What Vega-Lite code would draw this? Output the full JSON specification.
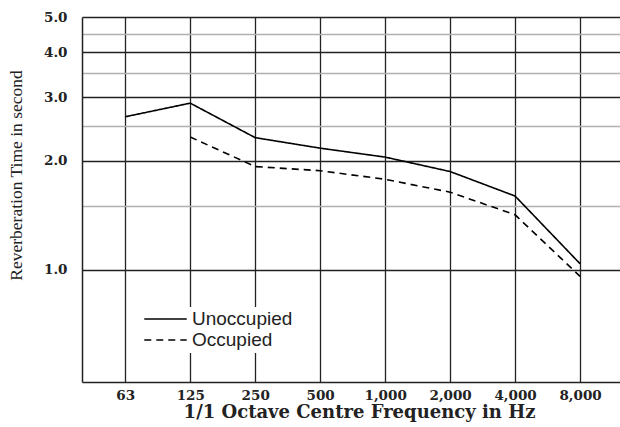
{
  "$schema": "https://vega.github.io/schema/vega-lite/v6.json",
  "width": 538,
  "height": 365,
  "autosize": {"type": "none"},
  "padding": {"left": 82, "top": 17, "right": 0, "bottom": 45},
  "background": "white",
  "data": {
    "values": [
      {"freq": "63", "status": "Unoccupied", "rt": 2.65},
      {"freq": "125", "status": "Unoccupied", "rt": 2.89},
      {"freq": "250", "status": "Unoccupied", "rt": 2.32},
      {"freq": "500", "status": "Unoccupied", "rt": 2.17},
      {"freq": "1,000", "status": "Unoccupied", "rt": 2.05},
      {"freq": "2,000", "status": "Unoccupied", "rt": 1.87},
      {"freq": "4,000", "status": "Unoccupied", "rt": 1.6},
      {"freq": "8,000", "status": "Unoccupied", "rt": 1.04},
      {"freq": "125", "status": "Occupied", "rt": 2.33},
      {"freq": "250", "status": "Occupied", "rt": 1.93},
      {"freq": "500", "status": "Occupied", "rt": 1.88},
      {"freq": "1,000", "status": "Occupied", "rt": 1.78},
      {"freq": "2,000", "status": "Occupied", "rt": 1.64},
      {"freq": "4,000", "status": "Occupied", "rt": 1.42},
      {"freq": "8,000", "status": "Occupied", "rt": 0.96}
    ]
  },
  "mark": {"type": "line", "color": "black", "strokeWidth": 1.6},
  "encoding": {
    "x": {
      "field": "freq",
      "type": "ordinal",
      "scale": {
        "type": "point",
        "domain": ["63", "125", "250", "500", "1,000", "2,000", "4,000", "8,000"],
        "padding": 0.64,
        "align": 0.52
      },
      "axis": {
        "title": "1/1 Octave Centre Frequency in Hz",
        "titleFont": "DejaVu Serif",
        "titleFontWeight": "bold",
        "titleFontSize": 18,
        "titleColor": "#222",
        "titlePadding": 2,
        "titleX": 277,
        "labelFont": "DejaVu Serif",
        "labelFontWeight": "bold",
        "labelFontSize": 13.5,
        "labelColor": "#222",
        "labelAngle": 0,
        "labelPadding": 6,
        "ticks": false,
        "grid": true,
        "gridColor": "#222",
        "gridWidth": 1.3,
        "gridOpacity": 1,
        "domainColor": "#222",
        "domainWidth": 1.5
      }
    },
    "y": {
      "field": "rt",
      "type": "quantitative",
      "scale": {"type": "log", "domain": [0.49, 5], "nice": false, "zero": false},
      "axis": {
        "title": "Reverberation Time in second",
        "titleFont": "Liberation Serif",
        "titleFontWeight": "normal",
        "titleFontSize": 17.5,
        "titleColor": "#222",
        "titleX": -66,
        "titleY": 158,
        "titleBaseline": "middle",
        "values": [1, 1.5, 2, 2.5, 3, 3.5, 4, 4.5, 5],
        "labelExpr": "datum.value % 1 === 0 ? format(datum.value, '.1f') : ''",
        "labelFont": "DejaVu Serif",
        "labelFontWeight": "bold",
        "labelFontSize": 13.5,
        "labelColor": "#222",
        "labelPadding": 15,
        "ticks": false,
        "grid": true,
        "gridColor": {"condition": {"test": "datum.value % 1 === 0", "value": "#222"}, "value": "#b0b0b0"},
        "gridWidth": 1.3,
        "gridOpacity": 1,
        "domainColor": "#222",
        "domainWidth": 1.5
      }
    },
    "strokeDash": {
      "field": "status",
      "type": "nominal",
      "scale": {"domain": ["Unoccupied", "Occupied"], "range": [[1, 0], [7, 5]]},
      "legend": {
        "title": null,
        "orient": "none",
        "legendX": 58,
        "legendY": 290,
        "fillColor": "white",
        "padding": 3,
        "symbolType": "stroke",
        "symbolSize": 1800,
        "symbolStrokeWidth": 1.6,
        "symbolStrokeColor": "black",
        "clipHeight": 18,
        "labelFont": "Liberation Sans",
        "labelFontSize": 19,
        "labelColor": "#222",
        "labelOffset": 4,
        "rowPadding": 2
      }
    }
  },
  "config": {"view": {"stroke": null}}
}
